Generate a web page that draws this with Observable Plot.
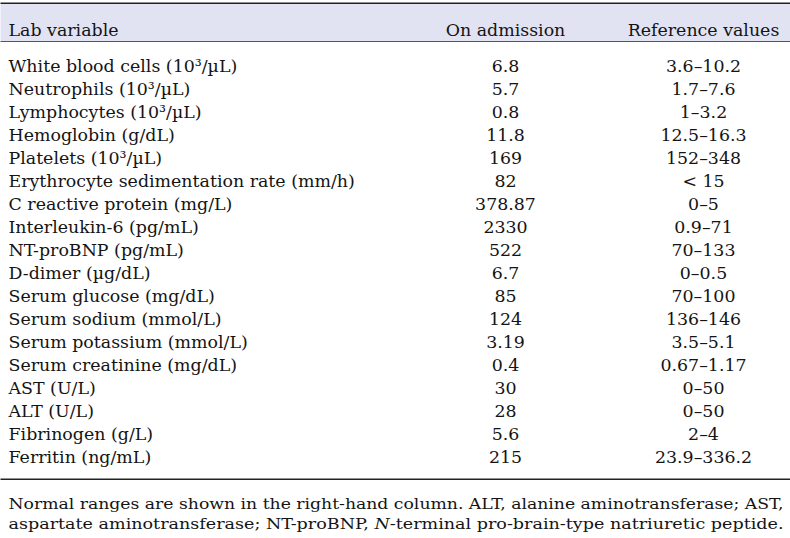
<!DOCTYPE html>
<html><head><meta charset="utf-8">
<script src="https://cdn.jsdelivr.net/npm/d3@7"></script>
<script src="https://cdn.jsdelivr.net/npm/@observablehq/plot@0.6"></script>
<style>body{margin:0;background:#fff}</style>
</head><body><div id="chart"></div>
<script>
const headers = ["Lab variable", "On admission", "Reference values"];
const variables = [
  "White blood cells (10³/µL)",
  "Neutrophils (10³/µL)",
  "Lymphocytes (10³/µL)",
  "Hemoglobin (g/dL)",
  "Platelets (10³/µL)",
  "Erythrocyte sedimentation rate (mm/h)",
  "C reactive protein (mg/L)",
  "Interleukin-6 (pg/mL)",
  "NT-proBNP (pg/mL)",
  "D-dimer (µg/dL)",
  "Serum glucose (mg/dL)",
  "Serum sodium (mmol/L)",
  "Serum potassium (mmol/L)",
  "Serum creatinine (mg/dL)",
  "AST (U/L)",
  "ALT (U/L)",
  "Fibrinogen (g/L)",
  "Ferritin (ng/mL)"
];
const admission = ["6.8","5.7","0.8","11.8","169","82","378.87","2330","522","6.7","85","124","3.19","0.4","30","28","5.6","215"];
const reference = ["3.6–10.2","1.7–7.6","1–3.2","12.5–16.3","152–348","< 15","0–5","0.9–71","70–133","0–0.5","70–100","136–146","3.5–5.1","0.67–1.17","0–50","0–50","2–4","23.9–336.2"];
const footnote = [
  "Normal ranges are shown in the right-hand column. ALT, alanine aminotransferase; AST,",
  "aspartate aminotransferase; NT-proBNP, N-terminal pro-brain-type natriuretic peptide."
];

const rows = variables.map((v, i) => ({variable: v, admission: admission[i], reference: reference[i]}));
const W = 790, H = 538;
const FS = 17.4;
const ink = "#141414";

const chart = Plot.plot({
  width: W, height: H,
  marginTop: 0, marginRight: 0, marginBottom: 0, marginLeft: 0,
  style: {fontFamily: "'DejaVu Serif', serif", background: "#fff", color: ink},
  x: {type: "point", domain: headers.slice(1), range: [505, 703], padding: 0, axis: null},
  y: {type: "point", domain: variables, range: [62.8, 460.2], padding: 0, axis: null},
  marks: [
    // header band
    Plot.frame({fill: "#e1e3f3", stroke: "none", insetTop: 3, insetBottom: H - 41}),
    // top rule
    Plot.frame({fill: "#222", stroke: "none", insetTop: 2, insetBottom: H - 3.5}),
    // header bottom rule
    Plot.frame({fill: "#555", stroke: "none", insetTop: 40.5, insetBottom: H - 41.5}),
    // bottom rule
    Plot.frame({fill: "#222", stroke: "none", insetTop: 478, insetBottom: H - 479.5}),
    // header texts
    Plot.text([headers[0]], {text: d => d, frameAnchor: "top-left", dx: 8, dy: 23.5, textAnchor: "start", fontSize: FS, fill: ink}),
    Plot.text(headers.slice(1), {x: d => d, text: d => d, frameAnchor: "top", dy: 23.5, fontSize: FS, fill: ink}),
    // body
    Plot.text(rows, {y: "variable", text: "variable", frameAnchor: "left", dx: 8, textAnchor: "start", fontSize: FS, fill: ink}),
    Plot.text(rows, {x: () => headers[1], y: "variable", text: "admission", fontSize: FS, fill: ink}),
    Plot.text(rows, {x: () => headers[2], y: "variable", text: "reference", fontSize: FS, fill: ink}),
    // footnote
    Plot.text([footnote[0]], {text: d => d, frameAnchor: "top-left", dx: 8, dy: 497.7, textAnchor: "start", fontSize: 15.5, fill: ink, className: "foot"}),
    Plot.text([footnote[1]], {text: d => d, frameAnchor: "top-left", dx: 8, dy: 517.7, textAnchor: "start", fontSize: 15.5, fill: ink, className: "foot"})
  ]
});
document.getElementById("chart").appendChild(chart);

// justify footnote lines and italicise the N of N-terminal
d3.select(chart).selectAll("g.foot text").each(function() {
  const t = d3.select(this);
  const s = this.textContent;
  t.attr("textLength", 775).attr("lengthAdjust", "spacingAndGlyphs");
  if (s === footnote[1]) {
    const i = s.indexOf("N-terminal");
    t.text(null);
    t.append("tspan").text(s.slice(0, i));
    t.append("tspan").attr("font-style", "italic").text("N");
    t.append("tspan").text(s.slice(i + 1));
  }
});
</script>
</body></html>
